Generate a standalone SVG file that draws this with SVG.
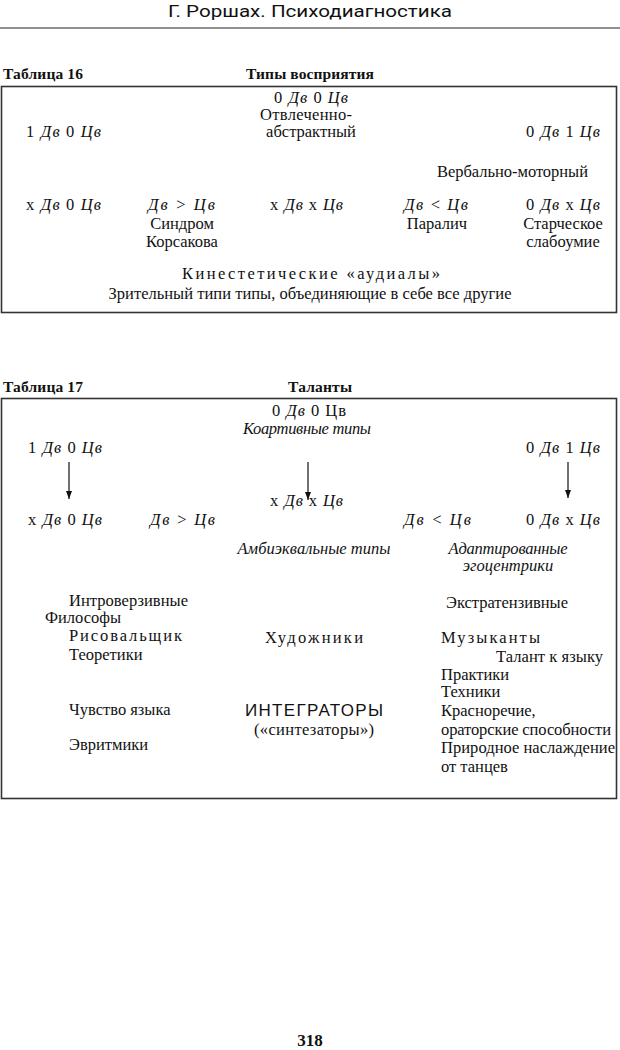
<svg xmlns="http://www.w3.org/2000/svg" width="620" height="1050" viewBox="0 0 620 1050">
<style>
text{font-family:"Liberation Serif","DejaVu Serif",serif;font-size:16.5px;fill:#111}
.i{font-style:italic}
.b{font-weight:bold}
.m{text-anchor:middle}
.e{text-anchor:end}
.box{fill:none;stroke:#333;stroke-width:1.6}
.hdr{font-family:"Roboto","Liberation Sans",sans-serif;font-size:17px}
.ttl{font-family:"Liberation Serif",serif;font-weight:bold;font-size:15.5px}
</style>
<defs>
<marker id="ah" viewBox="0 0 8 6" refX="8" refY="3" markerWidth="8" markerHeight="6" orient="auto" markerUnits="userSpaceOnUse">
<path d="M0,0 L8,3 L0,6 Z" fill="#111"/>
</marker>
</defs>
<rect width="620" height="1050" fill="#fff"/>
<g id="header">
<text class="hdr m" x="310" y="17" textLength="284" lengthAdjust="spacingAndGlyphs">Г. Роршах. Психодиагностика</text>
<line x1="0" y1="28" x2="620" y2="28" stroke="#222" stroke-width="1.2"/>
</g>
<g id="table16">
<text class="ttl" x="3" y="79" textLength="80">Таблица 16</text>
<text class="ttl m" x="310" y="79" textLength="128">Типы восприятия</text>
<rect class="box" x="1.5" y="86.5" width="615" height="226"/>
<g id="t16-top"><text class="m" x="311" y="103" textLength="74">0 <tspan class="i">Дв</tspan> 0 <tspan class="i">Цв</tspan></text>
<text class="m" x="306" y="120" textLength="92">Отвлеченно-</text>
<text class="m" x="311" y="137">абстрактный</text></g>
<g id="t16-left"><text x="26" y="137" textLength="75">1 <tspan class="i">Дв</tspan> 0 <tspan class="i">Цв</tspan></text></g>
<g id="t16-right"><text x="526" y="137" textLength="74">0 <tspan class="i">Дв</tspan> 1 <tspan class="i">Цв</tspan></text></g>
<g id="t16-verbal"><text x="437" y="177" textLength="151">Вербально-моторный</text></g>
<g id="t16-r1"><text x="26" y="210" textLength="75">x <tspan class="i">Дв</tspan> 0 <tspan class="i">Цв</tspan></text></g>
<g id="t16-r2"><text x="148" y="210" textLength="67"><tspan class="i">Дв</tspan> &gt; <tspan class="i">Цв</tspan></text>
<text class="m" x="182" y="229">Синдром</text>
<text class="m" x="182" y="247">Корсакова</text></g>
<g id="t16-r3"><text x="270" y="210" textLength="73">x <tspan class="i">Дв</tspan> x <tspan class="i">Цв</tspan></text></g>
<g id="t16-r4"><text x="404" y="210" textLength="64"><tspan class="i">Дв</tspan> &lt; <tspan class="i">Цв</tspan></text>
<text class="m" x="437" y="229">Паралич</text></g>
<g id="t16-r5"><text x="526" y="210" textLength="74">0 <tspan class="i">Дв</tspan> x <tspan class="i">Цв</tspan></text>
<text class="m" x="563" y="229">Старческое</text>
<text class="m" x="563" y="247">слабоумие</text></g>
<g id="t16-bottom"><text class="m" x="311" y="279" textLength="258">Кинестетические «аудиалы»</text>
<text class="m" x="310" y="299" textLength="403">Зрительный типи типы, объединяющие в себе все другие</text></g>
</g>
<g id="table17">
<text class="ttl" x="3" y="392" textLength="80">Таблица 17</text>
<text class="ttl m" x="320" y="392" textLength="64">Таланты</text>
<rect class="box" x="1.5" y="398.5" width="615" height="400"/>
<g id="t17-top"><text x="272" y="416" textLength="74">0 <tspan class="i">Дв</tspan> 0 Цв</text>
<text class="m i" x="307" y="434" textLength="128">Коартивные типы</text></g>
<g id="t17-left"><text x="28" y="453" textLength="74">1 <tspan class="i">Дв</tspan> 0 <tspan class="i">Цв</tspan></text></g>
<g id="t17-right"><text x="526" y="453" textLength="74">0 <tspan class="i">Дв</tspan> 1 <tspan class="i">Цв</tspan></text></g>
<g id="t17-mid"><text x="270" y="506" textLength="73">x <tspan class="i">Дв</tspan> x <tspan class="i">Цв</tspan></text></g>
<g id="t17-r1"><text x="28" y="525" textLength="74">x <tspan class="i">Дв</tspan> 0 <tspan class="i">Цв</tspan></text></g>
<g id="t17-r2"><text x="150" y="525" textLength="65"><tspan class="i">Дв</tspan> &gt; <tspan class="i">Цв</tspan></text></g>
<g id="t17-r4"><text x="404" y="525" textLength="67"><tspan class="i">Дв</tspan> &lt; <tspan class="i">Цв</tspan></text></g>
<g id="t17-r5"><text x="526" y="525" textLength="74">0 <tspan class="i">Дв</tspan> x <tspan class="i">Цв</tspan></text></g>
<g id="t17-ambi"><text class="m i" x="314" y="554" textLength="153">Амбиэквальные типы</text></g>
<g id="t17-adapt"><text class="m i" x="508" y="554" textLength="119">Адаптированные</text>
<text class="m i" x="508" y="571">эгоцентрики</text></g>
<g id="t17-intro"><text x="69" y="606" textLength="119">Интроверзивные</text>
<text x="45" y="623">Философы</text>
<text x="69" y="641" textLength="113">Рисовальщик</text>
<text x="69" y="660">Теоретики</text></g>
<g id="t17-art"><text x="265" y="643" textLength="98">Художники</text></g>
<g id="t17-extra"><text x="446" y="608" textLength="122">Экстратензивные</text>
<text x="441" y="643" textLength="99">Музыканты</text>
<text x="496" y="662" textLength="107">Талант к языку</text>
<text x="441" y="680">Практики</text>
<text x="441" y="697">Техники</text>
<text x="441" y="716">Красноречие,</text>
<text x="441" y="735" textLength="170">ораторские способности</text>
<text x="441" y="753" textLength="174">Природное наслаждение</text>
<text x="441" y="772">от танцев</text></g>
<g id="t17-lang"><text x="69" y="715">Чувство языка</text>
<text x="69" y="750">Эвритмики</text></g>
<g id="t17-integ"><text class="m" x="314" y="716" style="font-family:'Liberation Sans','DejaVu Sans',sans-serif;font-size:17px" textLength="138">ИНТЕГРАТОРЫ</text>
<text class="m" x="314" y="735" textLength="120">(«синтезаторы»)</text></g>
</g>
<g id="connectors" stroke="#111" stroke-width="1.2" fill="none">
<line x1="69" y1="462" x2="69" y2="499" marker-end="url(#ah)"/>
<line x1="308" y1="462" x2="308" y2="500" marker-end="url(#ah)"/>
<line x1="568" y1="462" x2="568" y2="498" marker-end="url(#ah)"/>
</g>
<g id="footer"><text class="m b" x="310" y="1046" style="font-size:17px">318</text></g>
</svg>
